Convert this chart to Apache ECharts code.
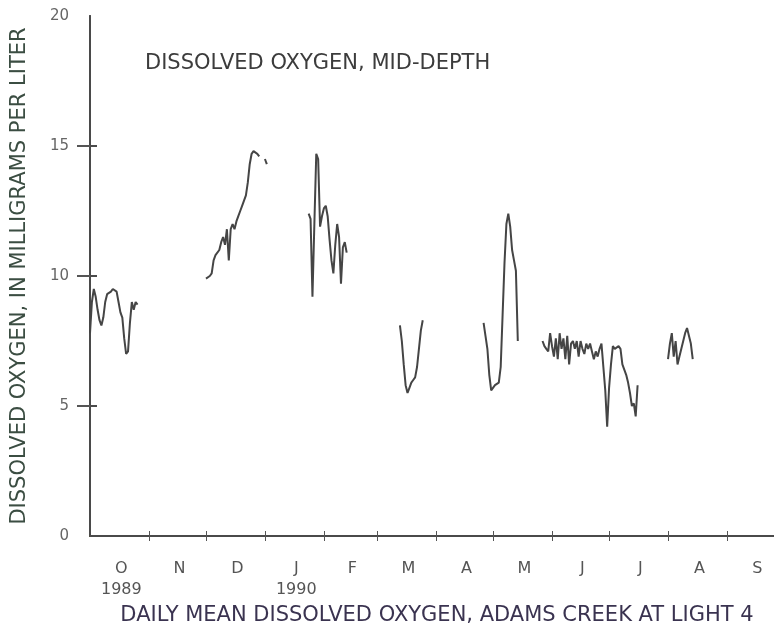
<!DOCTYPE html>
<html>
<head>
<meta charset="utf-8">
<title>Dissolved oxygen, Adams Creek</title>
<script src="https://cdn.jsdelivr.net/npm/echarts@6/dist/echarts.min.js"></script>
<style>
  html, body { margin: 0; padding: 0; background: #fff; }
  #main { width: 774px; height: 624px; }
</style>
</head>
<body>
<div id="main"></div>
<script>
// days counted from 1 Oct 1989 (day 0)
var monthEnds = [31, 61, 92, 123, 151, 182, 212, 243, 273, 304, 335];
var monthMids = [16.5, 47, 77.5, 108.5, 138, 167.5, 198, 228.5, 259, 289.5, 320.5, 351];
var monthLabels = ['O\n1989', 'N', 'D', 'J\n1990', 'F', 'M', 'A', 'M', 'J', 'J', 'A', 'S'];
var yTicks = [0, 5, 10, 15, 20];

// daily mean dissolved oxygen, mg/L, one array per unbroken record
var octStart = 0;
var octDO = [7.8, 9.0, 9.5, 9.2, 8.7, 8.3, 8.1, 8.4, 9.0, 9.3, 9.3, 9.4, 9.5, 9.5,
             9.4, 9.0, 8.6, 8.4, 7.6, 7.0, 7.1, 8.2, 9.0, 8.7, 9.0, 8.9];
var decStart = 61;
var decDO = [9.9, 9.9, 10.0, 10.1, 10.6, 10.8, 10.8, 11.0, 11.3, 11.5, 11.2, 11.8, 10.6,
             11.8, 12.0, 11.8, 12.1, 12.3, 12.5, 12.7, 12.9, 13.1, 13.6, 14.3, 14.7,
             14.8, 14.8, 14.7, 14.6];
var lateDecStart = 92;
var lateDecDO = [14.5, 14.3];
var janStart = 115;
var janDO = [12.4, 12.2, 9.2, 12.0, 14.7, 14.5, 11.9, 12.3, 12.6, 12.7, 12.3, 11.4,
             10.6, 10.1, 11.2, 12.0, 11.5, 9.7, 11.1, 11.3, 10.9];
var marStart = 163;
var marDO = [8.1, 7.5, 6.6, 5.8, 5.5, 5.7, 5.9, 6.0, 6.1, 6.5, 7.2, 7.9, 8.3];
var aprStart = 207;
var aprDO = [8.2, 7.7, 7.2, 6.2, 5.6, 5.6, 5.8, 5.8, 5.9, 6.5, 8.5, 10.5, 12.0, 12.4,
             11.9, 11.0, 10.6, 10.2, 7.5];
var mayStart = 238;
var mayDO = [7.5, 7.3, 7.2, 7.1, 7.8, 7.3, 6.9, 7.6, 6.8, 7.8, 7.2, 7.6, 6.8, 7.7,
             6.6, 7.4, 7.5, 7.2, 7.5, 6.9, 7.5, 7.2, 7.0, 7.4, 7.2, 7.4, 7.1, 6.8,
             7.1, 6.9, 7.2, 7.4, 6.5, 5.6, 4.2, 5.7, 6.6, 7.3, 7.2, 7.2, 7.3, 7.2,
             6.6, 6.4, 6.2, 5.9, 5.5, 5.0, 5.1, 4.6, 5.8];
var augStart = 304;
var augDO = [6.8, 7.4, 7.8, 6.9, 7.5, 6.6, 6.9, 7.2, 7.5, 7.8, 8.0, 8.0, 7.4, 6.8];

var records = [
    [octStart, octDO], [decStart, decDO], [lateDecStart, lateDecDO], [janStart, janDO],
    [marStart, marDO], [aprStart, aprDO], [mayStart, mayDO], [augStart, augDO]
];

var font = 'DejaVu Sans, sans-serif';

function toPairs(start, vals) {
    return vals.map(function (v, i) { return [start + i, v]; });
}

var series = records.map(function (r) {
    return {
        type: 'line',
        data: toPairs(r[0], r[1]),
        showSymbol: false,
        symbol: 'none',
        lineStyle: { color: '#454545', width: 2 },
        animation: false
    };
});

var labelFor = {};
monthMids.forEach(function (d, i) { labelFor[d] = monthLabels[i]; });

var myChart = echarts.init(document.getElementById('main'));
var option = {
    backgroundColor: '#fff',
    title: {
        text: 'DISSOLVED OXYGEN, MID-DEPTH',
        left: 140,
        top: 48,
        textStyle: { color: '#3c3c3c', fontSize: 21, fontWeight: 'normal', fontFamily: font }
    },
    grid: { left: 90, top: 16, width: 694, height: 520, outerBoundsMode: 'none' },
    xAxis: [
        {
            type: 'value',
            min: 0,
            max: 365,
            position: 'bottom',
            name: 'DAILY MEAN DISSOLVED OXYGEN, ADAMS CREEK AT LIGHT 4',
            nameLocation: 'middle',
            nameGap: 65,
            nameTextStyle: { color: '#3a3350', fontSize: 21, fontFamily: font },
            axisLine: { lineStyle: { color: '#5e5a30', width: 2 } },
            axisTick: { inside: true, length: 5, customValues: monthEnds, lineStyle: { color: '#555' } },
            axisLabel: {
                customValues: monthMids,
                margin: 22,
                lineHeight: 21,
                color: '#555',
                fontSize: 16,
                fontFamily: font,
                formatter: function (v) { return labelFor[v] || ''; }
            },
            splitLine: { show: false }
        },
        {
            type: 'value',
            min: 0,
            max: 365,
            position: 'top',
            axisLine: { lineStyle: { color: '#4a4a4a', width: 2 } },
            axisTick: { inside: true, length: 5, customValues: monthEnds, lineStyle: { color: '#555' } },
            axisLabel: { show: false },
            splitLine: { show: false }
        }
    ],
    yAxis: [
        {
            type: 'value',
            min: 0,
            max: 20,
            interval: 5,
            name: 'DISSOLVED OXYGEN, IN MILLIGRAMS PER LITER',
            nameLocation: 'middle',
            nameGap: 60,
            nameTextStyle: { color: '#3b4d42', fontSize: 21, fontFamily: font },
            axisLine: { show: true, lineStyle: { color: '#4a4a4a', width: 2 } },
            axisTick: { inside: true, length: 7, customValues: yTicks.slice(1, 4), lineStyle: { color: '#4a4a4a', width: 2 } },
            axisLabel: { margin: 21, color: '#666', fontSize: 15, fontFamily: font, customValues: yTicks },
            splitLine: { show: false }
        },
        {
            type: 'value',
            min: 0,
            max: 20,
            interval: 5,
            position: 'right',
            axisLine: { show: true, lineStyle: { color: '#4a4a4a', width: 2 } },
            axisTick: { inside: true, length: 13, customValues: yTicks.slice(1, 4), lineStyle: { color: '#555', width: 2 } },
            axisLabel: { show: false },
            splitLine: { show: false }
        }
    ],
    series: series
};
myChart.setOption(option);
</script>
</body>
</html>
